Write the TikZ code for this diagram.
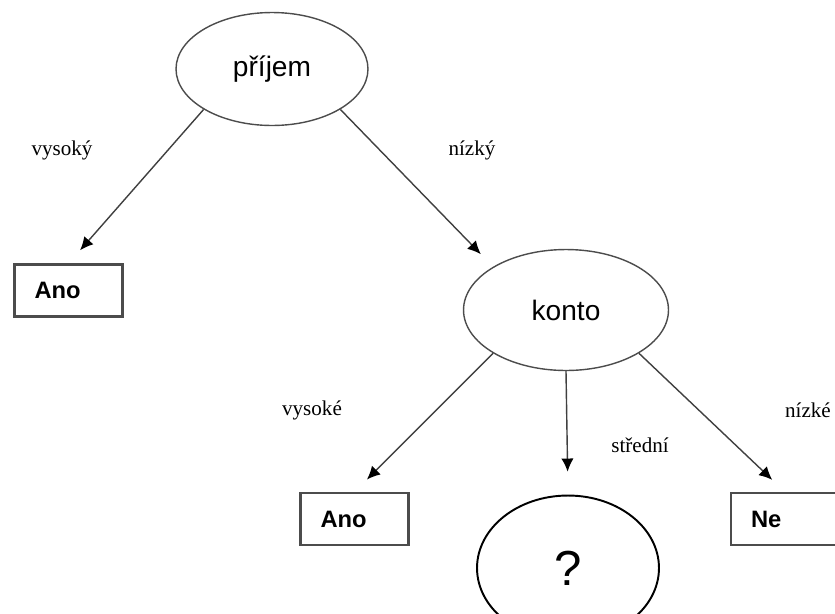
\documentclass[tikz,border=0pt]{standalone}
\usepackage{fontspec}
\setmainfont{Liberation Sans}
\newfontfamily\labelfont{Liberation Serif}
\usetikzlibrary{arrows.meta}
\usetikzlibrary{shapes.geometric}
\usepackage{xcolor}
\colorlet{mygray}{black!70}
\colorlet{myline}{black!75}
\tikzset{
  >=latex, % default arrow head
  node attr/.style={ellipse,draw=mygray,thick,inner sep=0,font=\fontsize{16}{18}\selectfont},
  node leaf/.style={rectangle,draw=mygray,line width=1.2pt,inner xsep=0.4cm,inner ysep=0,
    text width=1.36cm,align=left,minimum height=1.04cm,font=\bfseries\fontsize{13.5}{16}\selectfont},
  node unknown/.style={ellipse,draw=black,line width=1.1pt,inner sep=0,
    minimum width=3.64cm,minimum height=2.9cm,font=\fontsize{28}{30}\selectfont},
  edge label/.style={font=\labelfont\fontsize{12}{14}\selectfont},
  connect arrow/.style={-{Latex[length=7.5,width=7,color=black]},myline,thick,shorten >=10}
}
\begin{document}
\begin{tikzpicture}[x=0.02cm,y=-0.02cm]
    \useasboundingbox (0,0) rectangle (835,613);
    \clip (0,0) rectangle (835,613);
    % decision nodes
    \node[node attr,minimum width=3.84cm,minimum height=2.26cm] (prijem) at (272,69) {příjem};
    \node[node attr,minimum width=4.1cm,minimum height=2.42cm] (konto) at (566,310) {konto};
    % leaves
    \node[node leaf] (ano1) at (68.5,290.5) {Ano};
    \node[node leaf] (ano2) at (354.5,519) {Ano};
    \node[node leaf] (ne) at (785,519) {Ne};
    \node[node unknown] (otaznik) at (568,568) {?};
    % edges
    \draw[connect arrow] (prijem.south west) -- (ano1.north);
    \draw[connect arrow] (prijem.south east) -- (konto.north west);
    \draw[connect arrow] (konto.south west) -- (ano2.north);
    \draw[connect arrow,shorten >=13] (konto.south) -- (otaznik.north);
    \draw[connect arrow] (konto.south east) -- (ne.north);
    % edge labels
    \node[edge label] (l1) at (62,150) {vysoký};
    \node[edge label] (l2) at (472,150) {nízký};
    \node[edge label] (l3) at (312,410) {vysoké};
    \node[edge label] (l4) at (640,445) {střední};
    \node[edge label] (l5) at (808,410) {nízké};
\end{tikzpicture}
\end{document}
